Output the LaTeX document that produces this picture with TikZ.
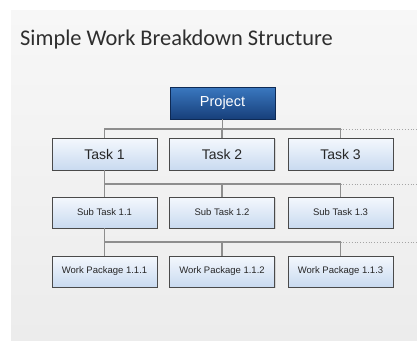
\documentclass[tikz,border=0pt]{standalone}
\usepackage{fontspec}
\setmainfont{Liberation Sans}
\newfontfamily\titlefont{Carlito}
\usetikzlibrary{shadows}
\definecolor{slidetop}{HTML}{F7F7F7}
\definecolor{slidebot}{HTML}{ECECEC}
\definecolor{boxtop}{HTML}{F4F8FD}
\definecolor{boxbot}{HTML}{C9DAF0}
\definecolor{boxedge}{HTML}{4A4A4A}
\definecolor{projtop}{HTML}{3A78C0}
\definecolor{projbot}{HTML}{173F7A}
\definecolor{projedge}{HTML}{0E2A55}
\definecolor{linkgray}{HTML}{8E8E8E}
\tikzset{
  wbsbox/.style={draw=boxedge, line width=0.9pt, top color=boxtop, bottom color=boxbot,
    minimum width=105pt, inner sep=0pt, text=black!85,
    drop shadow={shadow xshift=1pt, shadow yshift=-1pt, opacity=0.25}},
  taskbox/.style={wbsbox, minimum height=32pt, font=\fontsize{14}{16}\selectfont},
  smallbox/.style={wbsbox, minimum height=31pt, font=\fontsize{9.5}{11}\selectfont},
  projbox/.style={draw=projedge, line width=0.9pt, top color=projtop, bottom color=projbot,
    minimum width=105pt, minimum height=32pt, inner sep=0pt, text=white,
    font=\fontsize{14.5}{16}\selectfont},
  link/.style={draw=linkgray, line width=1.2pt},
  extlink/.style={draw=linkgray!80, line width=0.8pt, dotted}
}
\begin{document}
\begin{tikzpicture}[x=1pt, y=-1pt]
  \useasboundingbox (0,0) rectangle (417,341);
  \fill[white] (0,0) rectangle (417,341);
  % slide background
  \shade[top color=slidetop, bottom color=slidebot] (11,10) rectangle (417,340);

  % title
  \node[anchor=base west, font=\titlefont\fontsize{22.4}{25}\selectfont, text=black!82, inner sep=0pt]
    (title) at (20,45) {Simple Work Breakdown Structure};

  % right-hand ends of the three level buses
  \coordinate (e1) at (417,129);
  \coordinate (e2) at (417,184);
  \coordinate (e3) at (417,242);

  % boxes
  \node[projbox] (proj) at (222.5,103) {Project};

  \node[taskbox] (t1) at (104.5,154) {Task 1};
  \node[taskbox] (t2) at (222,154) {Task 2};
  \node[taskbox] (t3) at (340.5,154) {Task 3};

  \node[smallbox] (s1) at (104.5,212.5) {Sub Task 1.1};
  \node[smallbox] (s2) at (222,212.5) {Sub Task 1.2};
  \node[smallbox] (s3) at (340.5,212.5) {Sub Task 1.3};

  \node[smallbox] (w1) at (104.5,271.5) {Work Package 1.1.1};
  \node[smallbox] (w2) at (222,271.5) {Work Package 1.1.2};
  \node[smallbox] (w3) at (340.5,271.5) {Work Package 1.1.3};

  % level 1: project to tasks
  \draw[link] (proj.south) -- (proj.south |- e1);
  \draw[link] (t1.north) -- (t1.north |- e1) -- (t3.north |- e1) -- (t3.north);
  \draw[link] (t2.north |- e1) -- (t2.north);
  \draw[extlink] (t3.north |- e1) -- (e1);

  % level 2: task 1 to sub tasks
  \draw[link] (t1.south) -- (s1.north);
  \draw[link] (s1.north |- e2) -- (s3.north |- e2) -- (s3.north);
  \draw[link] (s2.north |- e2) -- (s2.north);
  \draw[extlink] (s3.north |- e2) -- (e2);

  % level 3: sub task 1.1 to work packages
  \draw[link] (s1.south) -- (w1.north);
  \draw[link] (w1.north |- e3) -- (w3.north |- e3) -- (w3.north);
  \draw[link] (w2.north |- e3) -- (w2.north);
  \draw[extlink] (w3.north |- e3) -- (e3);
\end{tikzpicture}
\end{document}
